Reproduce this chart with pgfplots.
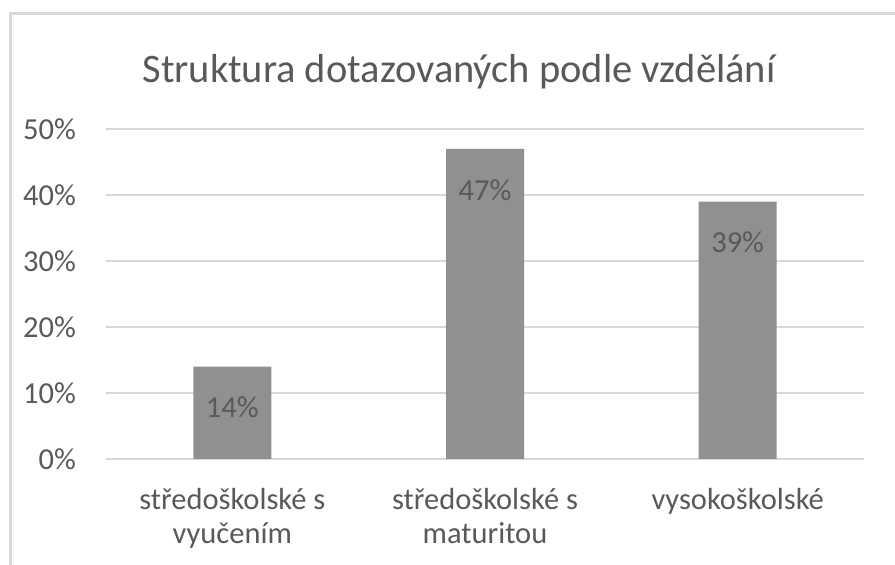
\documentclass[border=0pt]{standalone}
\usepackage{pgfplots}
\pgfplotsset{compat=1.18}
\usepackage{fontspec}
\setmainfont{Carlito}
\definecolor{txt}{HTML}{595959}
\definecolor{gridc}{HTML}{D9D9D9}
\definecolor{barc}{HTML}{909090}
\begin{document}
\begin{tikzpicture}[x=1bp,y=1bp]
\useasboundingbox (0,0) rectangle (895,565);
\draw[gridc, line width=3bp] (10,0) -- (10,551) -- (895,551);
\node[anchor=base, text=txt, font=\fontsize{40.5bp}{48bp}\selectfont, inner sep=0pt] at (459,482) {Struktura dotazovaných podle vzdělání};
\begin{axis}[
  at={(106bp,106bp)}, anchor=south west,
  scale only axis, width=758bp, height=330bp,
  xmin=-0.5, xmax=2.5, ymin=0, ymax=50,
  ybar, bar width=78bp,
  axis line style={draw=none},
  major tick length=0pt,
  ytick={0,10,20,30,40,50},
  yticklabel={\pgfmathprintnumber{\tick}\%},
  /pgf/number format/assume math mode=true,
  ymajorgrids, grid style={gridc, line width=2bp},
  xtick={0,1,2},
  xticklabels={středoškolské s\\vyučením, středoškolské s\\maturitou, vysokoškolské},
  tick label style={text=txt, font=\fontsize{30.5bp}{34bp}\selectfont},
  yticklabel style={inner sep=0pt, xshift=-30bp},
  xticklabel style={align=center, inner sep=0pt, anchor=north, yshift=-29bp},
  nodes near coords={\pgfmathprintnumber{\pgfplotspointmeta}\%},
  nodes near coords style={anchor=center, yshift=-41bp, text=txt, font=\fontsize{30.5bp}{34bp}\selectfont, /pgf/number format/assume math mode=true},
  clip=false,
]
\addplot[fill=barc, draw=none] coordinates {(0,14) (1,47) (2,39)};
\end{axis}
\end{tikzpicture}
\end{document}
